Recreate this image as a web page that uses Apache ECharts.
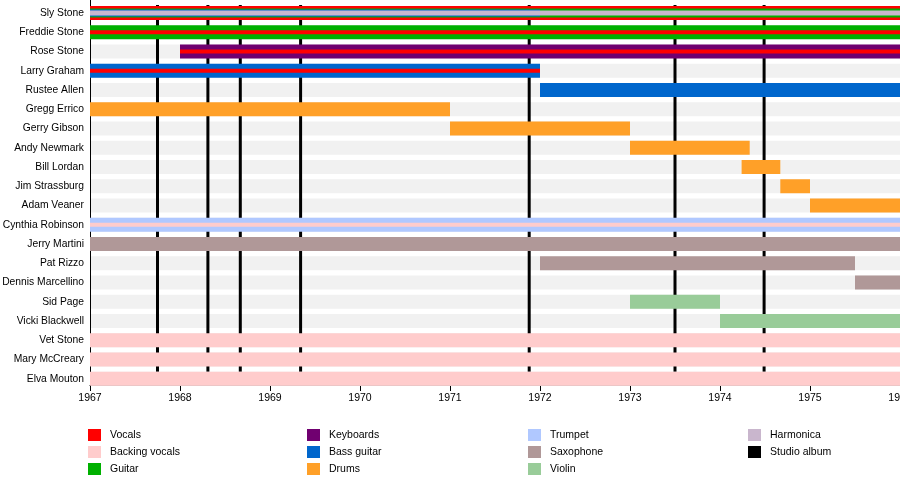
<!DOCTYPE html>
<html>
<head>
<meta charset="utf-8">
<script src="https://cdn.jsdelivr.net/npm/echarts@6/dist/echarts.min.js"></script>
<style>
  html, body {margin:0; padding:0; background:#fff;}
  #chartsBand {width:900px; height:480px;}
</style>
</head>
<body>
<div id="chartsBand"></div>
<script>
    var members = ['Sly Stone','Freddie Stone','Rose Stone','Larry Graham','Rustee Allen','Gregg Errico','Gerry Gibson',
      'Andy Newmark','Bill Lordan','Jim Strassburg','Adam Veaner','Cynthia Robinson','Jerry Martini','Pat Rizzo',
      'Dennis Marcellino','Sid Page','Vicki Blackwell','Vet Stone','Mary McCreary','Elva Mouton'];

    var instruments = ['Vocals','Backing vocals','Guitar','Keyboards','Bass guitar','Drums','Trumpet','Saxophone','Violin','Harmonica'];
    var instrumentColors = ['#ff0000','#ffcccc','#00b000','#700070','#0066cc','#ffa028','#b0c8ff','#b09898','#99cc99','#c9b6cd'];

    // member, instrument, from, to  (first role of a member = outer bar)
    var stints = [
      ['Sly Stone','Vocals',1967,1976],
      ['Sly Stone','Guitar',1967,1976],
      ['Sly Stone','Bass guitar',1967,1972],
      ['Sly Stone','Harmonica',1967,1976],
      ['Freddie Stone','Guitar',1967,1976],
      ['Freddie Stone','Vocals',1967,1976],
      ['Rose Stone','Keyboards',1968,1976],
      ['Rose Stone','Vocals',1968,1976],
      ['Larry Graham','Bass guitar',1967,1972],
      ['Larry Graham','Vocals',1967,1972],
      ['Rustee Allen','Bass guitar',1972,1976],
      ['Gregg Errico','Drums',1967,1971],
      ['Gerry Gibson','Drums',1971,1973],
      ['Andy Newmark','Drums',1973,1974.33],
      ['Bill Lordan','Drums',1974.24,1974.67],
      ['Jim Strassburg','Drums',1974.67,1975],
      ['Adam Veaner','Drums',1975,1976],
      ['Cynthia Robinson','Trumpet',1967,1976],
      ['Cynthia Robinson','Backing vocals',1967,1976],
      ['Jerry Martini','Saxophone',1967,1976],
      ['Pat Rizzo','Saxophone',1972,1975.5],
      ['Dennis Marcellino','Saxophone',1975.5,1976],
      ['Sid Page','Violin',1973,1974],
      ['Vicki Blackwell','Violin',1974,1976],
      ['Vet Stone','Backing vocals',1967,1976],
      ['Mary McCreary','Backing vocals',1967,1976],
      ['Elva Mouton','Backing vocals',1967,1976]
    ];

    var studioAlbums = [1967.75, 1968.31, 1968.67, 1969.34, 1971.88, 1973.5, 1974.49];

    var yearMin = 1967, yearMax = 1976;

    // bar thickness of nested layers, by number of layers in the row
    var layerScale = {1:[1], 2:[1,0.3], 4:[1,0.66,0.5,0.36]};
    var barFrac = 0.727, barShift = 0.175;
    var fontName = 'Liberation Sans, Arial, sans-serif';

    function barBox(api, row, frac){
        var band = api.size([0,1])[1];
        var c = api.coord([yearMin, row]);
        var h = band * barFrac * frac;
        var cy = c[1] + band * barShift;
        return {top: cy - h/2, height: h, band: band};
    }

    var series = [];

    series.push({
        name: 'bg',
        type: 'custom',
        silent: true,
        data: members.map(function(m, i){ return [i]; }),
        renderItem: function(params, api){
            var b = barBox(api, api.value(0), 1);
            var x0 = api.coord([yearMin, 0])[0], x1 = api.coord([yearMax, 0])[0];
            return {type:'rect', z2:0, shape:{x:x0+1, y:b.top, width:x1-x0, height:b.height}, style:{fill:'#f1f1f1'}};
        }
    });

    series.push({
        name: 'Studio album',
        type: 'custom',
        itemStyle: {color:'#000'},
        data: studioAlbums.map(function(v){ return [v]; }),
        renderItem: function(params, api){
            var top = barBox(api, 0, 1).top - 1;
            var bottom = barBox(api, members.length - 1, 1).top;
            var x = api.coord([api.value(0), 0])[0];
            return {type:'line', z2:5, shape:{x1:x, y1:top, x2:x, y2:bottom}, style:{stroke:'#000', lineWidth:3}};
        }
    });

    instruments.forEach(function(ins, k){
        var rows = [];
        stints.forEach(function(st){
            if(st[1] != ins) return;
            var own = stints.filter(function(o){ return o[0] == st[0]; });
            var depth = own.indexOf(st);
            rows.push([members.indexOf(st[0]), st[2], st[3], depth, own.length]);
        });
        series.push({
            name: ins,
            type: 'custom',
            itemStyle: {color: instrumentColors[k]},
            data: rows,
            renderItem: function(params, api){
                var depth = api.value(3), n = api.value(4);
                var frac = (layerScale[n] || [1,0.5,0.4,0.3])[depth];
                var b = barBox(api, api.value(0), frac);
                var x0 = api.coord([api.value(1), 0])[0];
                var x1 = api.coord([api.value(2), 0])[0];
                return {type:'rect', z2:10 + depth, shape:{x:x0, y:b.top, width:x1-x0, height:b.height}, style:{fill:instrumentColors[k]}};
            }
        });
    });

    function legendCol(left, names){
        return {
            left: left, top: 429, height: 60, padding: 0,
            orient: 'vertical', icon: 'rect',
            itemWidth: 13, itemHeight: 12, itemGap: 5,
            data: names,
            selectedMode: false,
            textStyle: {fontSize: 10.5, color: '#000', fontFamily: fontName, padding: [0,0,0,4]}
        };
    }

    var bandOption = {
        animation: false,
        grid: {left: 90, right: 0, top: 0, bottom: 95, containLabel: false, outerBoundsMode: 'none'},
        legend: [
            legendCol(88, ['Vocals','Backing vocals','Guitar']),
            legendCol(307, ['Keyboards','Bass guitar','Drums']),
            legendCol(528, ['Trumpet','Saxophone','Violin']),
            legendCol(748, ['Harmonica','Studio album'])
        ],
        xAxis: {
            type: 'value', min: yearMin, max: yearMax, interval: 1,
            axisLine: {show: true, lineStyle: {color: '#000', width: 1}},
            axisTick: {show: true, length: 6, lineStyle: {color: '#000'}},
            splitLine: {show: false},
            axisLabel: {fontSize: 10.5, color: '#000', fontFamily: fontName, margin: 8, formatter: function(v){ return '' + v; }}
        },
        yAxis: {
            type: 'category', data: members, inverse: true,
            axisLine: {show: true, lineStyle: {color: '#000', width: 1}},
            axisTick: {show: false},
            splitLine: {show: false},
            axisLabel: {fontSize: 10.3, color: '#000', fontFamily: fontName, margin: 6, verticalAlign: 'top', lineHeight: 7}
        },
        series: series
    };

    var myChart = echarts.init(document.getElementById("chartsBand"));
    bandOption && myChart.setOption(bandOption, true);
</script>
</body>
</html>
